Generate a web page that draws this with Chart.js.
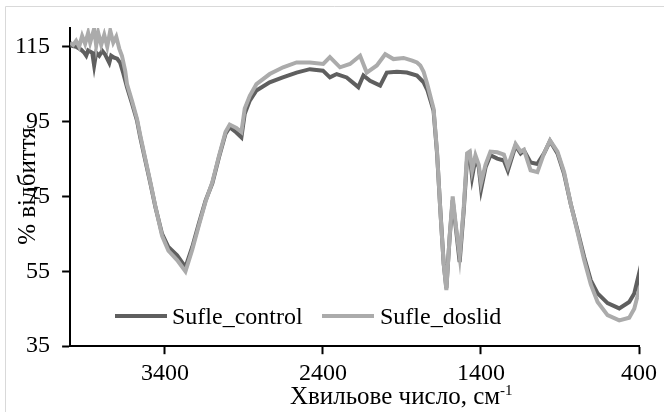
<!DOCTYPE html>
<html>
<head>
<meta charset="utf-8">
<script src="https://cdn.jsdelivr.net/npm/chart.js@4.4.1/dist/chart.umd.min.js"></script>
<style>
  html, body { margin: 0; padding: 0; background: #fff; }
  #chart { display: block; }
</style>
</head>
<body>
<canvas id="chart" width="664" height="412"></canvas>
<script>
// Data
const seriesNames = ['Sufle_control', 'Sufle_doslid'];

const controlWave = [4000, 3962, 3930, 3911, 3898, 3886, 3860, 3848, 3835, 3816, 3797, 3778, 3752, 3740, 3721, 3702, 3683, 3664,
    3640, 3608, 3577, 3556, 3524, 3492, 3460, 3418, 3378, 3323, 3270, 3227, 3185, 3143, 3100, 3058, 3016, 2990, 2948, 2916,
    2895, 2863, 2821, 2737, 2654, 2567, 2483, 2400, 2356, 2313, 2250, 2176, 2144, 2102, 2038, 1996, 1932, 1869, 1805, 1763,
    1740, 1700, 1678, 1657, 1636, 1619, 1598, 1579, 1557, 1535, 1509, 1488, 1471, 1456, 1435, 1414, 1399, 1371, 1340, 1297,
    1255, 1230, 1181, 1149, 1128, 1086, 1043, 1001, 963, 916, 874, 832, 789, 747, 705, 662, 599, 525, 462, 430, 405, 400];
const controlValues = [115.3, 115.0, 114.2, 113.4, 112.6, 114.0, 113.4, 110.0, 113.4, 112.6, 113.9, 112.9, 110.7, 112.6, 112.1, 111.8, 110.7, 108.0,
    104.2, 99.8, 95.3, 90.8, 84.6, 78.5, 72.1, 65.0, 61.5, 59.3, 56.1, 61.5, 67.8, 73.9, 78.5, 85.5, 91.8, 93.5, 92.1, 90.8,
    97.1, 100.6, 103.3, 105.5, 106.8, 108.1, 109.0, 108.6, 106.8, 107.7, 106.8, 104.2, 107.3, 105.9, 104.6, 108.1, 108.3, 108.1, 107.3, 105.5,
    103.5, 97.9, 86.5, 71.3, 57.1, 50.5, 64.2, 74.0, 65.9, 57.5, 71.3, 85.0, 86.0, 80.2, 85.1, 82.8, 77.0, 82.8, 86.0, 85.1,
    84.6, 81.9, 88.6, 86.5, 87.3, 84.1, 83.7, 86.5, 89.8, 86.5, 81.0, 73.0, 65.9, 58.8, 52.6, 49.1, 46.5, 45.1, 46.8, 49.1, 53.5, 50.0];

const doslidWave = [4000, 3981, 3962, 3943, 3924, 3905, 3886, 3873, 3848, 3835, 3822, 3803, 3784, 3765, 3746, 3727, 3708, 3689, 3672, 3651,
    3640, 3608, 3577, 3556, 3524, 3492, 3460, 3418, 3378, 3323, 3270, 3227, 3185, 3143, 3100, 3058, 3016, 2990, 2948, 2916,
    2895, 2863, 2821, 2737, 2652, 2567, 2483, 2398, 2356, 2292, 2229, 2165, 2123, 2059, 2006, 1954, 1890, 1835, 1805, 1784, 1763,
    1740, 1700, 1678, 1657, 1636, 1619, 1598, 1579, 1557, 1535, 1509, 1488, 1471, 1456, 1435, 1414, 1399, 1371, 1340, 1297,
    1255, 1230, 1181, 1149, 1128, 1086, 1043, 1001, 963, 916, 874, 832, 789, 747, 705, 662, 599, 525, 462, 430, 405, 400];
const doslidValues = [116.1, 115.5, 116.6, 115.0, 117.9, 115.8, 118.7, 116.1, 119.8, 115.3, 118.7, 115.5, 118.2, 115.0, 119.3, 116.1, 117.7, 114.5, 112.6, 108.5,
    105.0, 100.5, 95.8, 91.3, 85.0, 78.8, 72.3, 64.5, 60.5, 58.0, 55.0, 60.8, 67.3, 73.6, 78.8, 85.8, 92.3, 94.2, 93.3, 92.2,
    98.5, 101.9, 105.0, 107.7, 109.5, 110.8, 110.8, 110.4, 112.2, 109.5, 110.4, 112.6, 108.1, 110.0, 113.0, 111.7, 112.0, 111.3, 110.8, 110.0, 108.3,
    105.0, 98.5, 87.0, 71.0, 57.0, 50.0, 64.5, 75.0, 66.5, 59.0, 72.0, 86.5, 87.0, 82.0, 86.0, 83.5, 78.7, 83.5, 87.0, 86.8,
    86.2, 83.0, 89.0, 87.0, 87.5, 82.0, 81.5, 86.5, 90.0, 87.0, 81.5, 73.0, 65.5, 58.0, 51.5, 46.8, 43.3, 41.9, 42.6, 45.0, 49.1, 48.0];

const xTicks = [3400, 2400, 1400, 400];
const yTicks = [35, 55, 75, 95, 115];
const xTitle = 'Хвильове число, см';
const xTitleSup = '-1';
const yTitle = '% відбиття';

const colors = ['#5f5f5f', '#ababab'];
const FONT_FAMILY = '"Liberation Serif", "Times New Roman", serif';
const FONT_SIZE = 24;
const TITLE_SIZE = 25;
const LINE_W = 4;

function toPoints(wave, values) {
    return wave.map((w, i) => ({ x: w, y: values[i] }));
}

// Frame, axis titles and the in-plot legend
const extrasPlugin = {
    id: 'extras',
    beforeDraw(chart) {
        const ctx = chart.ctx;
        ctx.save();
        ctx.strokeStyle = '#d9d9d9';
        ctx.lineWidth = 1;
        ctx.beginPath();
        ctx.moveTo(5.5, chart.height);
        ctx.lineTo(5.5, 6.5);
        ctx.lineTo(chart.width, 6.5);
        ctx.stroke();
        ctx.restore();
    },
    afterDraw(chart) {
        const ctx = chart.ctx;
        ctx.save();
        ctx.fillStyle = '#000';
        ctx.textBaseline = 'alphabetic';

        // x axis title with superscript
        ctx.font = TITLE_SIZE + 'px ' + FONT_FAMILY;
        ctx.textAlign = 'left';
        const tx = 290, ty = 404;
        ctx.fillText(xTitle, tx, ty);
        const w = ctx.measureText(xTitle).width;
        ctx.font = '15px ' + FONT_FAMILY;
        ctx.fillText(xTitleSup, tx + w, ty - 9);

        // y axis title, rotated
        ctx.font = TITLE_SIZE + 'px ' + FONT_FAMILY;
        ctx.save();
        ctx.translate(35, 186);
        ctx.rotate(-Math.PI / 2);
        ctx.textAlign = 'center';
        ctx.fillText(yTitle, 0, 0);
        ctx.restore();

        // legend inside the plot
        ctx.font = FONT_SIZE + 'px ' + FONT_FAMILY;
        const ly = 316;
        const items = [
            { x: 115, tx: 172 },
            { x: 322, tx: 380 }
        ];
        items.forEach((it, i) => {
            ctx.strokeStyle = colors[i];
            ctx.lineWidth = LINE_W;
            ctx.beginPath();
            ctx.moveTo(it.x, ly);
            ctx.lineTo(it.x + 52, ly);
            ctx.stroke();
            ctx.textAlign = 'left';
            ctx.fillText(seriesNames[i], it.tx, ly + 8);
        });
        ctx.restore();
    }
};

const ctx = document.getElementById('chart').getContext('2d');
const chart = new Chart(ctx, {
    type: 'line',
    data: {
        datasets: [
            {
                label: seriesNames[0],
                data: toPoints(controlWave, controlValues),
                borderColor: colors[0],
                borderWidth: LINE_W,
                pointRadius: 0,
                tension: 0,
                fill: false,
                order: 1
            },
            {
                label: seriesNames[1],
                data: toPoints(doslidWave, doslidValues),
                borderColor: colors[1],
                borderWidth: LINE_W,
                pointRadius: 0,
                tension: 0,
                fill: false,
                order: 0
            }
        ]
    },
    options: {
        responsive: false,
        animation: false,
        devicePixelRatio: 1,
        layout: {
            padding: { left: 3, right: 25, top: 28, bottom: 19 }
        },
        plugins: {
            legend: { display: false },
            tooltip: { enabled: false }
        },
        scales: {
            x: {
                type: 'linear',
                reverse: true,
                min: 400,
                max: 4000,
                afterBuildTicks: s => { s.ticks = xTicks.map(v => ({ value: v })); },
                grid: { display: true, drawOnChartArea: false, tickLength: 8, tickColor: '#000', tickWidth: 2 },
                border: { display: true, color: '#000', width: 2 },
                ticks: {
                    color: '#000', padding: 5, maxRotation: 0,
                    font: { family: FONT_FAMILY, size: FONT_SIZE },
                    callback: v => String(v)
                }
            },
            y: {
                type: 'linear',
                min: 35,
                max: 120,
                afterBuildTicks: s => { s.ticks = yTicks.map(v => ({ value: v })); },
                grid: { display: true, drawOnChartArea: false, tickLength: 8, tickColor: '#000', tickWidth: 2 },
                border: { display: true, color: '#000', width: 2 },
                ticks: {
                    color: '#000', padding: 12,
                    font: { family: FONT_FAMILY, size: FONT_SIZE },
                    callback: v => String(v)
                }
            }
        }
    },
    plugins: [extrasPlugin]
});
</script>
</body>
</html>
